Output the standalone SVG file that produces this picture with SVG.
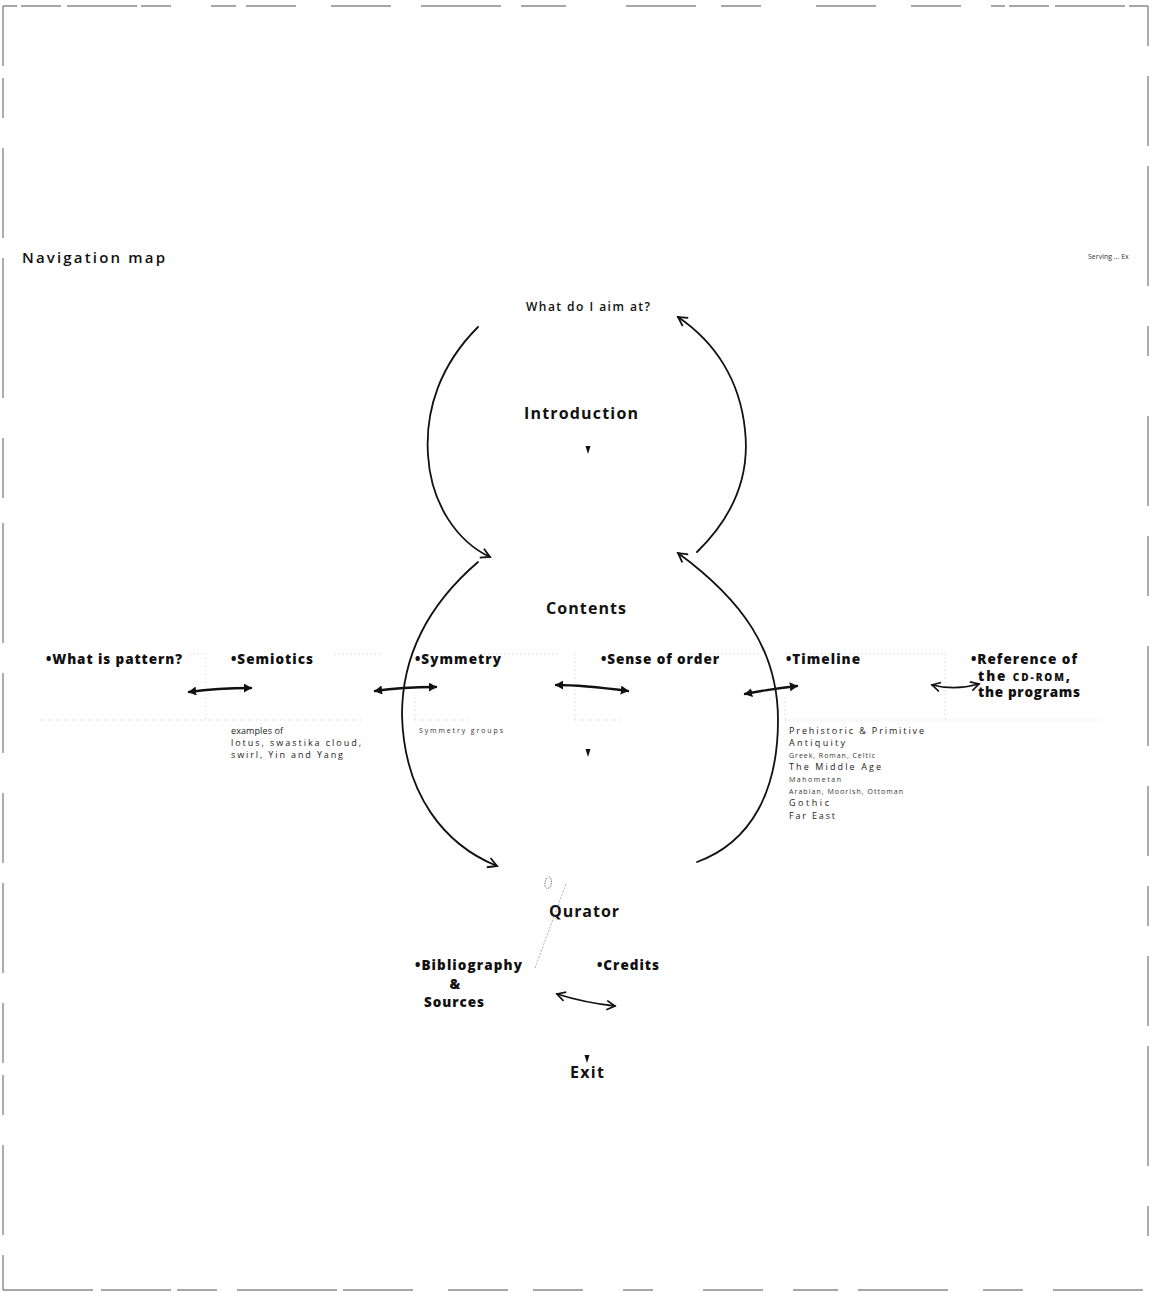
<svg xmlns="http://www.w3.org/2000/svg" width="1151" height="1293" viewBox="0 0 1151 1293">
  <style>
    .title { font-family: "Open Sans", "Liberation Sans", sans-serif; font-weight: 600; font-size: 15px; fill: #111; }
    .head { font-family: "Open Sans", "Liberation Sans", sans-serif; font-weight: bold; font-size: 16px; fill: #111; }
    .item { font-family: "Open Sans", "Liberation Sans", sans-serif; font-weight: 800; font-size: 13.5px; fill: #111; }
    .q { font-family: "Open Sans", "Liberation Sans", sans-serif; font-weight: 600; font-size: 12px; fill: #111; }
    .small { font-family: "Open Sans", "Liberation Sans", sans-serif; font-size: 9px; fill: #222; }
    .tiny { font-family: "Open Sans", "Liberation Sans", sans-serif; font-size: 7px; fill: #333; }
    .curve { fill: none; stroke: #111; stroke-width: 1.8; stroke-linecap: round; }
    .link { fill: none; stroke: #111; stroke-width: 2.4; stroke-linecap: round; }
    .grid { fill: none; stroke: #cfcfcf; stroke-width: 1; stroke-dasharray: 1 3; }
    .frame { fill: none; stroke: #8a8a8a; stroke-width: 1.4; }
    .tri { fill: #111; }
  </style>
  <defs>
    <marker id="open" viewBox="0 0 12 12" refX="10" refY="6" markerWidth="12" markerHeight="12" markerUnits="userSpaceOnUse" orient="auto">
      <path d="M1,1 L10,6 L1,11" fill="none" stroke="#111" stroke-width="1.8"/>
    </marker>
    <marker id="solid" viewBox="0 0 10 10" refX="8" refY="5" markerWidth="9" markerHeight="9" markerUnits="userSpaceOnUse" orient="auto-start-reverse">
      <path d="M0,0 L9,5 L0,10 Z" fill="#111"/>
    </marker>
    <marker id="hook" viewBox="0 0 12 12" refX="10" refY="6" markerWidth="11" markerHeight="11" markerUnits="userSpaceOnUse" orient="auto-start-reverse">
      <path d="M1,1 L10,6 L1,11" fill="none" stroke="#111" stroke-width="1.8"/>
    </marker>
  </defs>

  <!-- broken page frame -->
  <g id="frame">
    <path class="frame" d="M3,6 H1148" stroke-dasharray="14 4 40 6 70 4 30 40 25 10 50 35 60 30 80 20 45 60 70 25 40 55 60 35 50 30"/>
    <path class="frame" d="M3,1290 H1148" stroke-dasharray="90 8 70 6 40 20 100 6 70 35 60 25 50 40 30 50 60 30 45 20 90 35 40 30"/>
    <path class="frame" d="M3,6 V1290" stroke-dasharray="60 12 40 30 90 20 140 40 60 25 120 30 80 40 70 20 90 30" stroke="#aaa"/>
    <path class="frame" d="M1148,6 V1290" stroke-dasharray="40 30 70 20 120 40 30 60 90 30 60 50 100 40 70 30" stroke="#aaa"/>
  </g>

  <!-- light layout grid behind the topic row -->
  <g id="grid">
    <path class="grid" d="M190,654 H206 M206,654 V720 M40,720 H362 M335,654 H380"/>
    <path class="grid" d="M415,698 V720 M415,720 H470 M480,654 H560 M575,654 V720 M575,720 H620 M690,654 H760"/>
    <path class="grid" d="M785,654 H945 M945,654 V720 M785,698 V720 M785,720 H1100"/>
  </g>

  <g id="title">
    <text class="title" x="22" y="263" textLength="143" lengthAdjust="spacing">Navigation map</text>
    <text class="tiny" x="1088" y="259" font-size="6" fill="#777">Serving ... Ex</text>
  </g>

  <g id="node-aim"><text class="q" x="588" y="311" text-anchor="middle" textLength="124" lengthAdjust="spacing">What do I aim at?</text></g>
  <g id="node-introduction">
    <text class="head" x="581" y="419" text-anchor="middle" textLength="114" lengthAdjust="spacing">Introduction</text>
    <path class="tri" d="M585.5,446 L590.5,446 L588,454 Z"/>
  </g>
  <g id="node-contents"><text class="head" x="586" y="614" text-anchor="middle" textLength="80" lengthAdjust="spacing">Contents</text></g>

  <g id="node-pattern"><text class="item" x="46" y="664" textLength="136" lengthAdjust="spacing">•What is pattern?</text></g>
  <g id="node-semiotics">
    <text class="item" x="231" y="664" textLength="82" lengthAdjust="spacing">•Semiotics</text>
    <text class="small" x="231" y="734" textLength="52" lengthAdjust="spacing">examples of</text>
    <text class="small" x="231" y="746" textLength="130" lengthAdjust="spacing">lotus, swastika cloud,</text>
    <text class="small" x="231" y="758" textLength="112" lengthAdjust="spacing">swirl, Yin and Yang</text>
  </g>
  <g id="node-symmetry">
    <text class="item" x="415" y="664" textLength="86" lengthAdjust="spacing">•Symmetry</text>
    <text class="tiny" x="419" y="733" textLength="84" lengthAdjust="spacing">Symmetry groups</text>
  </g>
  <g id="node-order">
    <text class="item" x="601" y="664" textLength="118" lengthAdjust="spacing">•Sense of order</text>
    <path class="tri" d="M585.5,749 L590.5,749 L588,757 Z"/>
  </g>
  <g id="node-timeline">
    <text class="item" x="786" y="664" textLength="74" lengthAdjust="spacing">•Timeline</text>
    <text class="small" x="789" y="734" textLength="135" lengthAdjust="spacing">Prehistoric &amp; Primitive</text>
    <text class="small" x="789" y="746" textLength="56" lengthAdjust="spacing">Antiquity</text>
    <text class="tiny" x="789" y="758" textLength="86" lengthAdjust="spacing">Greek, Roman, Celtic</text>
    <text class="small" x="789" y="770" textLength="92" lengthAdjust="spacing">The Middle Age</text>
    <text class="tiny" x="789" y="782" textLength="52" lengthAdjust="spacing">Mahometan</text>
    <text class="tiny" x="789" y="794" textLength="114" lengthAdjust="spacing">Arabian, Moorish, Ottoman</text>
    <text class="small" x="789" y="806" textLength="40" lengthAdjust="spacing">Gothic</text>
    <text class="small" x="789" y="819" textLength="46" lengthAdjust="spacing">Far East</text>
  </g>
  <g id="node-reference">
    <text class="item" x="971" y="664" textLength="106" lengthAdjust="spacing">•Reference of</text>
    <text class="item" x="978" y="681" textLength="92" lengthAdjust="spacing">the <tspan font-size="10">CD-ROM</tspan>,</text>
    <text class="item" x="978" y="697" textLength="102" lengthAdjust="spacing">the programs</text>
  </g>

  <g id="node-qurator">
    <text class="head" x="584" y="917" text-anchor="middle" textLength="70" lengthAdjust="spacing">Qurator</text>
    <path d="M547,878 C543,884 545,890 549,888 C553,884 552,878 548,876" fill="none" stroke="#666" stroke-width="0.9" stroke-dasharray="1.5 1"/>
    <path d="M566,884 L535,968" fill="none" stroke="#999" stroke-width="0.8" stroke-dasharray="2 1.5"/>
  </g>
  <g id="node-bibliography">
    <text class="item" x="415" y="970" textLength="107" lengthAdjust="spacing">•Bibliography</text>
    <text class="item" x="455" y="989" text-anchor="middle">&amp;</text>
    <text class="item" x="424" y="1007" textLength="60" lengthAdjust="spacing">Sources</text>
  </g>
  <g id="node-credits"><text class="item" x="597" y="970" textLength="62" lengthAdjust="spacing">•Credits</text></g>
  <g id="node-exit">
    <path class="tri" d="M584.5,1055 L589.5,1055 L587,1063 Z"/>
    <text class="head" x="587" y="1078" text-anchor="middle" textLength="34" lengthAdjust="spacing">Exit</text>
  </g>

  <!-- connectors -->
  <g id="connectors">
    <path class="curve" marker-end="url(#open)" d="M478,327 C440,365 425,410 428,455 C431,505 458,542 490,557"/>
    <path class="curve" marker-end="url(#open)" d="M697,552 C735,515 750,475 745,430 C740,380 715,342 678,317"/>
    <path class="curve" marker-end="url(#open)" d="M478,562 C428,605 402,655 402,715 C404,795 445,845 497,866"/>
    <path class="curve" marker-end="url(#open)" d="M697,862 C752,842 778,790 778,720 C778,650 742,600 678,553"/>

    <path class="link" marker-start="url(#solid)" marker-end="url(#solid)" d="M189,692 C210,689 230,688 251,688"/>
    <path class="link" marker-start="url(#solid)" marker-end="url(#solid)" d="M375,691 C395,688 415,687 436,687"/>
    <path class="link" marker-start="url(#solid)" marker-end="url(#solid)" d="M556,685 C580,685 605,688 628,691"/>
    <path class="link" marker-start="url(#solid)" marker-end="url(#solid)" d="M745,694 C765,690 780,688 797,686"/>
    <path class="curve" marker-start="url(#hook)" marker-end="url(#hook)" d="M932,685 C948,689 965,688 979,684"/>
    <path class="curve" marker-start="url(#hook)" marker-end="url(#hook)" d="M557,994 C576,1000 596,1004 615,1006"/>
  </g>
</svg>
